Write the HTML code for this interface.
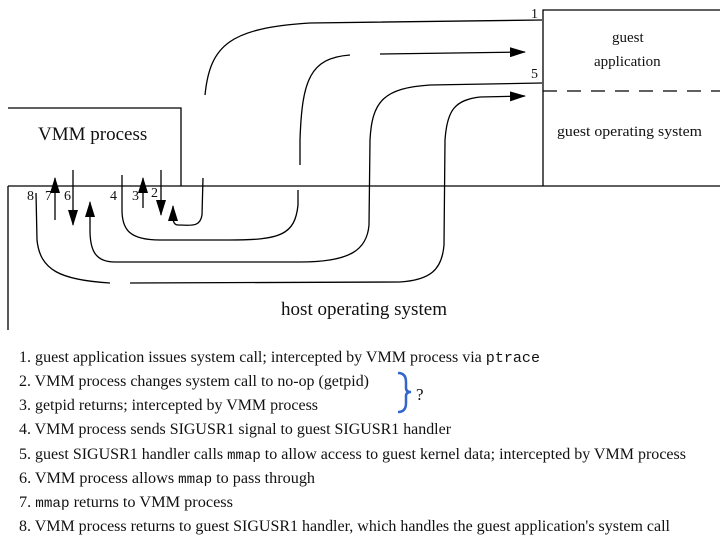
<!DOCTYPE html>
<html><head><meta charset="utf-8"><style>
html,body{margin:0;padding:0;background:#fff;}
svg{display:block;}
text{font-family:"Liberation Serif",serif;fill:#111;}
.m{font-family:"Liberation Mono",monospace;}
</style></head><body>
<svg width="720" height="540" viewBox="0 0 720 540" xmlns="http://www.w3.org/2000/svg">
<defs>
<marker id="b" markerWidth="16" markerHeight="10" refX="15" refY="5" orient="auto" markerUnits="userSpaceOnUse">
<path d="M0,0 L16,5 L0,10 Z" fill="#000"/></marker>
</defs>
<g stroke="#000" stroke-width="1.3" fill="none">
<path d="M8,108 L181,108 L181,186"/>
<path d="M8,186 L720,186 M8,186 L8,330"/>
<path d="M543,186 L543,10 L720,10"/>
<path d="M543,91 L720,91" stroke-dasharray="14,10"/>
<path d="M542,20 L310,23 C230,28 210,45 205,95"/>
<path d="M203,178 L202,215 C200,228 190,225 178,225 C172,225 173,218 173,206" marker-end="url(#b)"/>
<path d="M350,55 C310,58 302,80 300,140 L300,165"/>
<path d="M380,54 L525,52" marker-end="url(#b)"/>
<path d="M298,190 L298,205 C295,235 280,240 230,240 L160,240 C130,240 122,230 122,210 L122,175"/>
<path d="M542,83 L430,85 C385,88 372,100 370,140 L369,225 C367,250 350,262 300,262 L115,262 C95,262 90,250 90,230 L90,202" marker-end="url(#b)"/>
<path d="M480,97 L525,96" marker-end="url(#b)"/>
<path d="M480,97 C455,100 447,110 445,140 L444,245 C442,270 430,280 400,282 L130,283"/>
<path d="M110,283 C60,280 40,270 37,240 L36,193"/>
<path d="M55,220 L55,178" marker-end="url(#b)"/>
<path d="M73,170 L73,225" marker-end="url(#b)"/>
<path d="M143,208 L143,178" marker-end="url(#b)"/>
<path d="M161,170 L161,215" marker-end="url(#b)"/>
</g>
<text x="38" y="140" font-size="19">VMM process</text>
<text x="612" y="42" font-size="15">guest</text>
<text x="594" y="66" font-size="15">application</text>
<text x="557" y="136" font-size="15" textLength="145" lengthAdjust="spacingAndGlyphs">guest operating system</text>
<text x="281" y="315" font-size="19" textLength="166" lengthAdjust="spacingAndGlyphs">host operating system</text>
<g font-size="14">
<text x="27" y="200">8</text><text x="45" y="200">7</text><text x="64" y="200">6</text>
<text x="110" y="200">4</text><text x="132" y="200">3</text><text x="151" y="197">2</text>
<text x="531" y="18">1</text><text x="531" y="78">5</text>
</g>
<g font-size="16">
<text x="19" y="362" textLength="521" lengthAdjust="spacingAndGlyphs">1. guest application issues system call; intercepted by VMM process via <tspan class="m" font-size="15">ptrace</tspan></text>
<text x="19" y="386" textLength="350" lengthAdjust="spacingAndGlyphs">2. VMM process changes system call to no-op (getpid)</text>
<text x="19" y="410" textLength="299" lengthAdjust="spacingAndGlyphs">3. getpid returns; intercepted by VMM process</text>
<text x="19" y="434" textLength="432" lengthAdjust="spacingAndGlyphs">4. VMM process sends SIGUSR1 signal to guest SIGUSR1 handler</text>
<text x="19" y="459" textLength="667" lengthAdjust="spacingAndGlyphs">5. guest SIGUSR1 handler calls <tspan class="m" font-size="14">mmap</tspan> to allow access to guest kernel data; intercepted by VMM process</text>
<text x="19" y="483" textLength="296" lengthAdjust="spacingAndGlyphs">6. VMM process allows <tspan class="m" font-size="14">mmap</tspan> to pass through</text>
<text x="19" y="507" textLength="214" lengthAdjust="spacingAndGlyphs">7. <tspan class="m" font-size="14">mmap</tspan> returns to VMM process</text>
<text x="19" y="531" textLength="651" lengthAdjust="spacingAndGlyphs">8. VMM process returns to guest SIGUSR1 handler, which handles the guest application's system call</text>
</g>
<path d="M398,373 Q406,373 406,382 L406,388 Q406,392 411,392 Q406,392 406,396 L406,403 Q406,412 398,412" stroke="#3366cc" stroke-width="2.5" fill="none"/>
<text x="416" y="400" font-size="17">?</text>
</svg>
</body></html>
